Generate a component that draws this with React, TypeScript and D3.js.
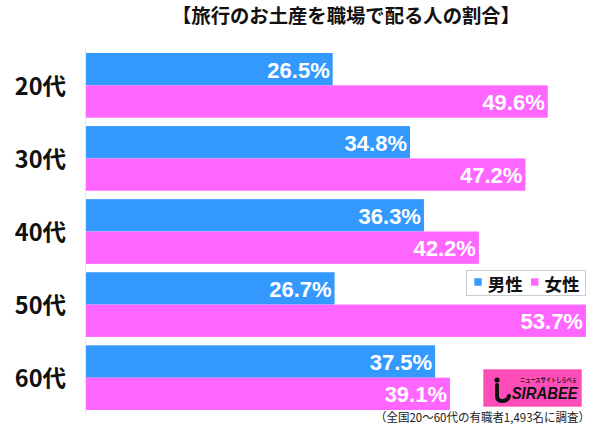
import { scaleBand, scaleLinear } from "d3";

const categories = ["20代", "30代", "40代", "50代", "60代"];
const maleValues = [26.5, 34.8, 36.3, 26.7, 37.5];
const femaleValues = [49.6, 47.2, 42.2, 53.7, 39.1];
const seriesNames = ["男性", "女性"];
const seriesColors = ["#3399ff", "#ff66ff"];

const titleText = "【旅行のお土産を職場で配る人の割合】";
const noteText = "（全国20～60代の有職者1,493名に調査）";

const width = 600;
const height = 428;
const cjkFont = "'Noto Sans CJK JP', 'Noto Sans', sans-serif";
const numFont = "'Liberation Sans', Arial, sans-serif";

export default function App(): React.JSX.Element {
  const x = scaleLinear().domain([0, 60]).range([86, 644.6]);
  const y = scaleBand<string>().domain(categories).range([53, 410]).paddingInner(0.115);
  const barH = y.bandwidth() / 2;
  const series = [maleValues, femaleValues];

  return (
    <svg
      width={width}
      height={height}
      viewBox={`0 0 ${width} ${height}`}
      style={{ position: "absolute", left: 0, top: 0, background: "#fff" }}
    >
      <text
        x={172}
        y={22.5}
        fontFamily={cjkFont}
        fontWeight="bold"
        fontSize={19}
        textLength={348}
        lengthAdjust="spacingAndGlyphs"
        fill="#111"
      >
        {titleText}
      </text>

      <line x1={85.5} x2={85.5} y1={48} y2={415} stroke="#e8e8e8" strokeWidth={1} />

      {categories.map((cat, i) => {
        const top = y(cat) ?? 0;
        return (
          <g key={cat}>
            <text
              x={66}
              y={top + barH + 9.7}
              textAnchor="end"
              fontFamily={cjkFont}
              fontWeight="bold"
              fontSize={23.5}
              fill="#111"
            >
              {cat}
            </text>
            {series.map((values, s) => {
              const v = values[i];
              const by = top + s * barH;
              return (
                <g key={s}>
                  <rect
                    x={x(0)}
                    y={by}
                    width={x(v) - x(0)}
                    height={barH}
                    fill={seriesColors[s]}
                  />
                  <text
                    x={x(v) - 3}
                    y={by + barH / 2 + 8.5}
                    textAnchor="end"
                    fontFamily={numFont}
                    fontWeight="bold"
                    fontSize={22}
                    fill="#fff"
                  >
                    {`${v.toFixed(1)}%`}
                  </text>
                </g>
              );
            })}
          </g>
        );
      })}

      <g>
        <rect x={466.5} y={270.5} width={119} height={25} fill="#fff" stroke="#cccccc" />
        {seriesNames.map((name, s) => {
          const lx = s === 0 ? 474.3 : 531;
          return (
            <g key={name}>
              <rect x={lx} y={278.3} width={7.4} height={7.4} fill={seriesColors[s]} />
              <text
                x={lx + 13.4}
                y={290.5}
                fontFamily={cjkFont}
                fontWeight="bold"
                fontSize={17.5}
                fill="#111"
              >
                {name}
              </text>
            </g>
          );
        })}
      </g>

      <g>
        <rect x={483.3} y={369.3} width={98.4} height={37.4} fill="#ff4db8" />
        <circle cx={497} cy={380} r={2.6} fill="#111" />
        <path
          d="M497 385 L497 396 Q497 401 502 401 Q508 401 509 396"
          fill="none"
          stroke="#111"
          strokeWidth={4}
          strokeLinecap="round"
        />
        <text
          x={520}
          y={382}
          fontFamily={cjkFont}
          fontWeight="bold"
          fontSize={5.5}
          textLength={57}
          lengthAdjust="spacingAndGlyphs"
          fill="#111"
        >
          ニュースサイトしらべぇ
        </text>
        <text
          x={511.7}
          y={398.5}
          fontFamily={numFont}
          fontWeight="bold"
          fontStyle="italic"
          fontSize={17}
          textLength={66}
          lengthAdjust="spacingAndGlyphs"
          fill="#111"
        >
          SIRABEE
        </text>
      </g>

      <text
        x={375}
        y={422}
        fontFamily={cjkFont}
        fontSize={12}
        textLength={215}
        lengthAdjust="spacingAndGlyphs"
        fill="#222"
      >
        {noteText}
      </text>
    </svg>
  );
}
